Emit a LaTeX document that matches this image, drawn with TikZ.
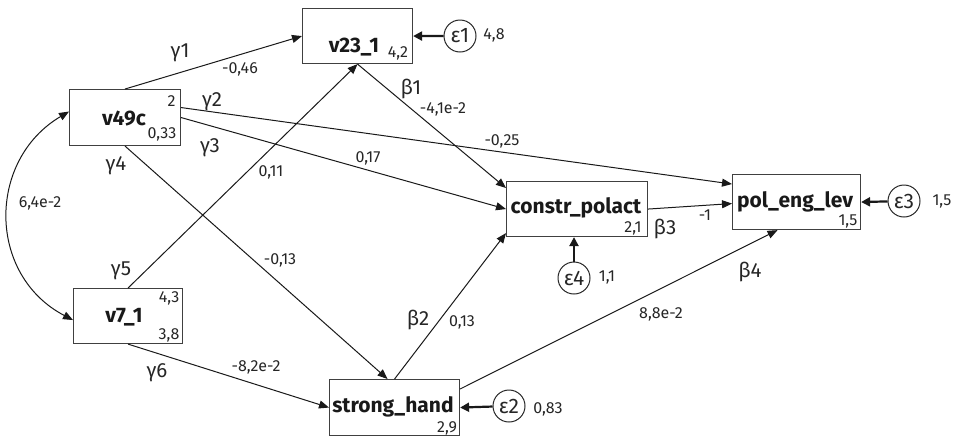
\documentclass[tikz,border=0pt]{standalone}
\usepackage{fontspec}
\setmainfont{Fira Sans}
\usetikzlibrary{arrows.meta,calc}
\begin{document}
\begin{tikzpicture}[x=1pt,y=-1pt,
  box/.style={draw=black!75,line width=1.1pt,rectangle,inner sep=0pt,anchor=north west},
  varlab/.style={font=\fontsize{21}{21}\selectfont\bfseries,anchor=base,inner sep=0pt,text=black!90},
  num/.style={font=\fontsize{16}{16}\selectfont,anchor=base,inner sep=0pt,text=black!85},
  greek/.style={font=\fontsize{20.5}{20.5}\selectfont,anchor=base,inner sep=0pt,text=black!85},
  errc/.style={draw=black!85,circle,line width=1pt,minimum size=32pt,inner sep=0pt,font=\fontsize{21}{21}\selectfont,text=black!85},
  conn/.style={draw=black!90,line width=1pt,-{Triangle[length=10pt,width=8pt]}},
  errconn/.style={draw=black!90,line width=2.2pt,-{Triangle[length=9pt,width=9pt]}}]
\useasboundingbox (0,0) rectangle (960,437);
% boxes
\node[box,minimum width=110pt,minimum height=55pt] (v23) at (302,8) {};
\node[box,minimum width=111pt,minimum height=56pt] (v49c) at (69,89) {};
\node[box,minimum width=109pt,minimum height=55pt] (v7) at (73,288) {};
\node[box,minimum width=130pt,minimum height=56pt] (sh) at (329,379) {};
\node[box,minimum width=141pt,minimum height=55pt] (cp) at (506,181) {};
\node[box,minimum width=128pt,minimum height=55pt] (pel) at (732,174) {};
% box labels
\node[varlab] (lv23) at (354,52) {v23\_1};
\node[varlab] (lv49c) at (124,125) {v49c};
\node[varlab] (lv7) at (124,322) {v7\_1};
\node[varlab] (lsh) at (393,412) {strong\_hand};
\node[varlab] (lcp) at (576,213) {constr\_polact};
\node[varlab] (lpel) at (795,207) {pol\_eng\_lev};
% box numbers
\node[num] (n1) at (398,57.5) {4,2};
\node[num] (n2) at (171.5,106) {2};
\node[num] (n3) at (162,138) {0,33};
\node[num] (n4) at (169,302) {4,3};
\node[num] (n5) at (169,339) {3,8};
\node[num] (n6) at (447,432) {2,9};
\node[num] (n7) at (633,232) {2,1};
\node[num] (n8) at (848,225) {1,5};
% error terms
\node[errc] (e1) at (460,36) {ε1};
\node[errc] (e2) at (509,406) {ε2};
\node[errc] (e3) at (904,201) {ε3};
\node[errc] (e4) at (574,278) {ε4};
\node[num] (ne1) at (494,39) {4,8};
\node[num] (ne2) at (548,413) {0,83};
\node[num] (ne3) at (942,205) {1,5};
\node[num] (ne4) at (607,281) {1,1};
% connectors
\draw[conn] (v49c.north) -- (v23.west);
\draw[conn] ($(v49c.east)+(0,-10)$) -- ($(pel.west)+(0,-18)$);
\draw[conn] (v49c.east) -- (cp.west);
\draw[conn] (v49c.south) -- ($(sh.north)+(-7,0)$);
\draw[conn] (v7.north) -- (v23.south);
\draw[conn] (v7.south) -- (sh.west);
\draw[conn] (v23.south) -- ($(cp.north west)+(0,7)$);
\draw[conn] (sh.north) -- ($(cp.south west)+(0,-4)$);
\draw[conn] (cp.east) -- ($(pel.west)+(0,1.5)$);
\draw[conn] ($(sh.north east)+(0,10)$) -- ($(pel.south)+(-19,0)$);
\draw[errconn] (e1) -- (v23.east);
\draw[errconn] (e2) -- (sh.east);
\draw[errconn] (e3) -- (pel.east);
\draw[errconn] (e4) -- (e4 |- cp.south);
\draw[conn,{Triangle[length=10pt,width=8pt]}-{Triangle[length=10pt,width=8pt]}]
  ($(v49c.west)+(0,-6)$) .. controls (-13,160) and (-13,275) .. ($(v7.west)+(0,4)$);
% path labels
\node[greek] (g1) at (180,57) {γ1};
\node[greek] (g2) at (212,106) {γ2};
\node[greek] (g3) at (210,152) {γ3};
\node[greek] (g4) at (116,170) {γ4};
\node[greek] (g5) at (121,275) {γ5};
\node[greek] (g6) at (157,377) {γ6};
\node[greek] (b1) at (411,94) {β1};
\node[greek] (b2) at (418,325) {β2};
\node[greek] (b3) at (665,234) {β3};
\node[greek] (b4) at (750,277) {β4};
\node[num] (c1) at (240,73) {-0,46};
\node[num] (c2) at (443,113) {-4,1e-2};
\node[num] (c3) at (368,162) {0,17};
\node[num] (c4) at (271,176) {0,11};
\node[num] (c5) at (40,207) {6,4e-2};
\node[num] (c6) at (502,145.5) {-0,25};
\node[num] (c7) at (280,264) {-0,13};
\node[num] (c8) at (256,371) {-8,2e-2};
\node[num] (c9) at (462,326) {0,13};
\node[num] (c10) at (705,220) {-1};
\node[num] (c11) at (661,318) {8,8e-2};
\end{tikzpicture}
\end{document}
